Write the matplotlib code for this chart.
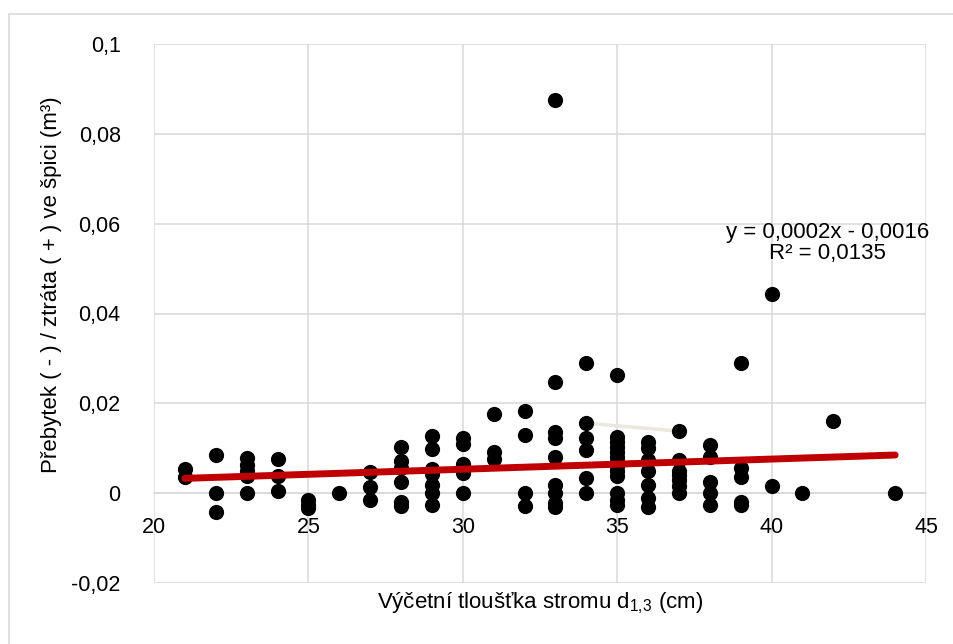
import numpy as np
import matplotlib.pyplot as plt
from matplotlib.patches import Rectangle

plt.rcParams['font.family'] = ['Liberation Sans', 'DejaVu Sans']
plt.rcParams['mathtext.fontset'] = 'custom'
plt.rcParams['mathtext.rm'] = 'Liberation Sans'

# tree diameter d1,3 (cm) -> surplus(-)/loss(+) in top (m3)
d_21 = [0.0053, 0.0035]
d_22 = [0.0085, 0.0, -0.0042]
d_23 = [0.0078, 0.0062, 0.005, 0.0038, 0.0]
d_24 = [0.0076, 0.0038, 0.0005]
d_25 = [-0.0016, -0.0027, -0.0034]
d_26 = [0.0]
d_27 = [0.0047, 0.0013, -0.0016]
d_28 = [0.0103, 0.0072, 0.0055, 0.0025, -0.002, -0.0028]
d_29 = [0.0127, 0.0098, 0.0053, 0.0042, 0.0018, 0.0, -0.0027]
d_30 = [0.0122, 0.011, 0.0065, 0.0045, 0.0]
d_31 = [0.0176, 0.0092, 0.0077]
d_32 = [0.0183, 0.013, 0.0, -0.0028]
d_33 = [0.0875, 0.0247, 0.0136, 0.0122, 0.008, 0.0018, 0.0, -0.0022, -0.003]
d_34 = [0.029, 0.0156, 0.0122, 0.0096, 0.0033, 0.0]
d_35 = [0.0263, 0.0124, 0.0113, 0.0102, 0.0091, 0.008, 0.007, 0.006, 0.005,
        0.0039, 0.0, -0.0016, -0.0027]
d_36 = [0.0114, 0.01, 0.0073, 0.005, 0.0018, -0.001, -0.003]
d_37 = [0.0138, 0.0073, 0.005, 0.004, 0.003, 0.0015, 0.0]
d_38 = [0.0107, 0.0081, 0.0025, 0.0, -0.0027]
d_39 = [0.029, 0.0056, 0.0036, -0.002, -0.0027]
d_40 = [0.0443, 0.0016]
d_41 = [0.0]
d_42 = [0.016]
d_44 = [0.0]

groups = {21: d_21, 22: d_22, 23: d_23, 24: d_24, 25: d_25, 26: d_26, 27: d_27,
          28: d_28, 29: d_29, 30: d_30, 31: d_31, 32: d_32, 33: d_33, 34: d_34,
          35: d_35, 36: d_36, 37: d_37, 38: d_38, 39: d_39, 40: d_40, 41: d_41,
          42: d_42, 44: d_44}
x = []
y = []
for k, vals in groups.items():
    x += [k] * len(vals)
    y += vals
x = np.array(x)
y = np.array(y)

# trend line as drawn (label shows rounded coefficients)
slope = 0.000226
intercept = -0.00145
trend_x = [21, 44]
eq_text = 'y = 0,0002x - 0,0016\nR² = 0,0135'

# faint stray segment visible in the original
stray_x = [34, 37]
stray_y = [0.0156, 0.0138]

fig = plt.figure(figsize=(9.54, 6.44), dpi=100)
fig.patches.append(Rectangle((9 / 954, -0.05), 2, (644 - 14) / 644 + 0.05,
                             transform=fig.transFigure, fill=False,
                             edgecolor='#d9d9d9', linewidth=1.2))
ax = fig.add_axes([154 / 954, 61 / 644, 772 / 954, 539 / 644])

ax.set_xlim(20, 45)
ax.set_ylim(-0.02, 0.1)
ax.set_xticks(np.arange(20, 46, 5))
ax.set_yticks(np.arange(-0.02, 0.101, 0.02))
ax.set_yticklabels(['-0,02', '0', '0,02', '0,04', '0,06', '0,08', '0,1'])
ax.grid(True, color='#d9d9d9', linewidth=1.1)
ax.set_axisbelow(True)
for s in ['top', 'right', 'left']:
    ax.spines[s].set_visible(False)
ax.spines['bottom'].set_position(('data', 0))
ax.spines['bottom'].set_color('#d9d9d9')
ax.spines['bottom'].set_linewidth(1.1)
ax.tick_params(axis='both', length=0, labelsize=15.5, colors='black')
ax.tick_params(axis='x', pad=17)
ax.tick_params(axis='y', pad=24)

ax.plot(stray_x, stray_y, color='#ebe8de', linewidth=2.5, zorder=2)
ax.scatter(x, y, s=120, color='black', zorder=3, linewidths=0)
tx = np.array(trend_x)
ax.plot(tx, slope * tx + intercept, color='#c00000', linewidth=5,
        solid_capstyle='round', zorder=4)

ax.text(41.8, 0.0557, eq_text, ha='center', va='center', fontsize=16,
        linespacing=1.05)

fig.text(540 / 954, 1 - 603 / 644, 'Výčetní tloušťka stromu d$_\\mathregular{1,\\!3}$ (cm)',
         ha='center', va='center', fontsize=16)
fig.text(52 / 954, 1 - 285 / 644, 'Přebytek ( - ) / ztráta ( + ) ve špici (m³)',
         ha='center', va='center', rotation=90, fontsize=16)

fig.savefig('out.png', dpi=100)
